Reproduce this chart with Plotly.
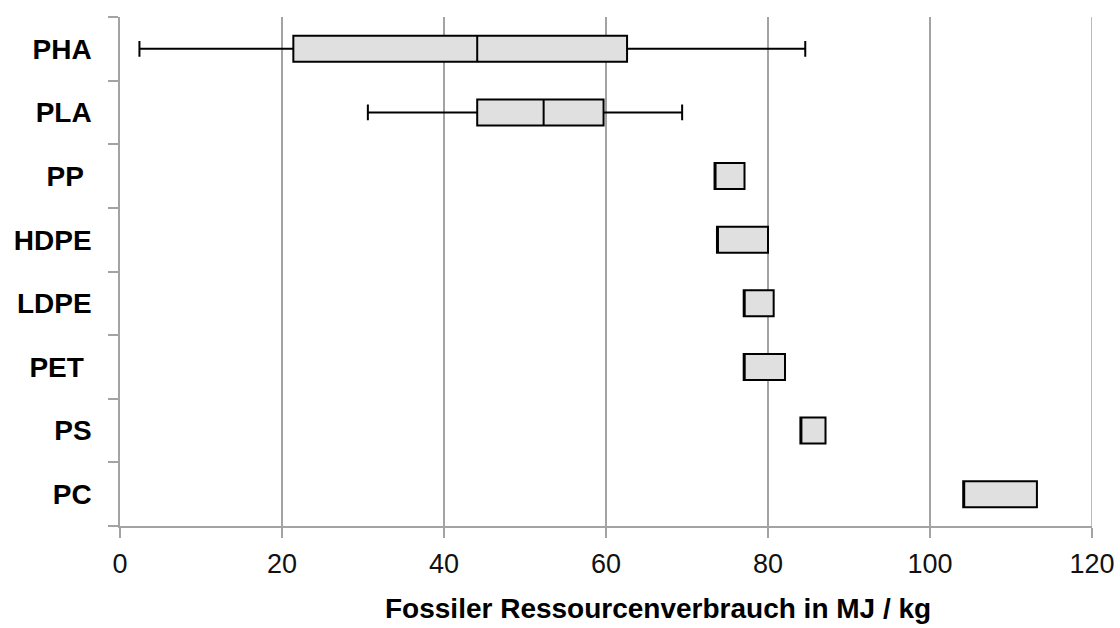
import plotly.graph_objects as go

categories = ["PHA", "PLA", "PP", "HDPE", "LDPE", "PET", "PS", "PC"]
tick_labels = ["PHA", "PLA", "PP\u00a0", "HDPE", "LDPE", "PET\u00a0", "PS", "PC"]
lower_whisker = [2.4, 30.6, 73.4, 73.7, 77.0, 77.0, 84.0, 104.1]
q1_values = [21.4, 44.1, 73.4, 73.7, 77.0, 77.0, 84.0, 104.1]
median_values = [44.1, 52.3, 73.4, 73.7, 77.0, 77.0, 84.0, 104.1]
q3_values = [62.6, 59.7, 77.1, 80.0, 80.7, 82.1, 87.1, 113.2]
upper_whisker = [84.6, 69.4, 77.1, 80.0, 80.7, 82.1, 87.1, 113.2]
x_ticks = [0, 20, 40, 60, 80, 100, 120]
x_title = "Fossiler Ressourcenverbrauch in MJ / kg"

grid_color = "#a3a3a3"

fig = go.Figure()
fig.add_trace(go.Box(
    orientation="h",
    y=categories,
    q1=q1_values,
    median=median_values,
    q3=q3_values,
    lowerfence=lower_whisker,
    upperfence=upper_whisker,
    fillcolor="#e0e0e0",
    line=dict(color="#000000", width=2),
    whiskerwidth=0.6,
    boxpoints=False,
    showlegend=False,
))

fig.update_layout(
    width=1120,
    height=628,
    margin=dict(l=120, r=28, t=17, b=102),
    paper_bgcolor="white",
    plot_bgcolor="white",
    boxgap=0.59,
    boxgroupgap=0,
    font=dict(family="Liberation Sans, Arial, sans-serif", color="#000000"),
    xaxis=dict(
        range=[0, 120],
        tickvals=x_ticks,
        ticktext=[str(v) for v in x_ticks],
        automargin=False,
        showgrid=True,
        gridcolor=grid_color,
        gridwidth=1.5,
        zeroline=False,
        showline=True,
        linecolor=grid_color,
        linewidth=1.5,
        ticks="outside",
        ticklen=10,
        tickwidth=1.5,
        tickcolor=grid_color,
        tickfont=dict(size=27, color="#111111"),
        ticklabelstandoff=3,
    ),
    yaxis=dict(
        type="category",
        categoryorder="array",
        categoryarray=categories,
        tickvals=categories,
        ticktext=tick_labels,
        autorange="reversed",
        range=[-0.5, 7.5],
        automargin=False,
        showgrid=False,
        zeroline=False,
        showline=True,
        linecolor=grid_color,
        linewidth=1.5,
        ticks="outside",
        tickson="boundaries",
        ticklen=10,
        tickwidth=1.5,
        tickcolor=grid_color,
        tickfont=dict(size=28, color="#000000", weight="bold"),
        ticklabelstandoff=21,
    ),
    annotations=[dict(
        text="<b>" + x_title + "</b>",
        xref="paper", yref="paper",
        x=(658 - 120) / 972, y=-0.163,
        xanchor="center", yanchor="middle",
        showarrow=False,
        font=dict(size=28, color="#000000"),
    )],
    shapes=[dict(
        type="line", xref="x", yref="paper",
        x0=120, x1=120, y0=0, y1=1,
        line=dict(color=grid_color, width=1.5),
    )],
)

fig.write_html("out.html")
